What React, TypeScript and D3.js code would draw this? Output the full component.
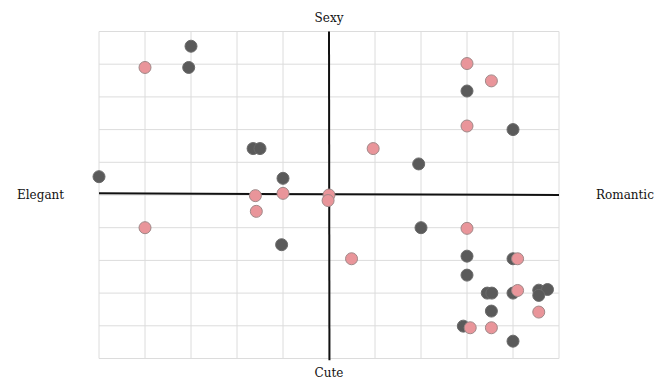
import React, { useEffect, useRef } from 'react';
import * as d3 from 'd3';

// quadrant scatter: Elegant/Romantic (x) vs Cute/Sexy (y)
const darkX = [-3, -3.05, -1.65, -1.5, -5, -1, -1.03, 3, 4, 1.95, 2, 3, 3, 4, 3.44, 3.54, 4, 4.56, 4.75, 4.56, 3.53, 2.92, 4];
const darkY = [4.55, 3.9, 1.42, 1.42, 0.56, 0.51, -1.52, 3.18, 2, 0.95, -1, -1.87, -2.45, -1.95, -3, -3, -3, -2.91, -2.89, -3.07, -3.55, -4.01, -4.47];

const pinkX = [-4, -1.6, -1, 0, -0.02, -1.58, -4, 3, 3.53, 3, 0.96, 3, 0.49, 4.1, 4.1, 4.56, 3.07, 3.53];
const pinkY = [3.9, -0.02, 0.05, 0, -0.17, -0.5, -1, 4.02, 3.49, 2.11, 1.42, -1.02, -1.95, -1.95, -2.92, -3.58, -4.06, -4.06];

const ticks = [-5, -4, -3, -2, -1, 0, 1, 2, 3, 4, 5];
const labels = { top: 'Sexy', bottom: 'Cute', left: 'Elegant', right: 'Romantic' };

const W = 670;
const H = 384;

const App: React.FC = () => {
  const svgRef = useRef<SVGSVGElement>(null);

  useEffect(() => {
    if (!svgRef.current) return;
    const svg = d3.select(svgRef.current);
    svg.selectAll('*').remove();

    const x = d3.scaleLinear().domain([-5, 5]).range([99, 559]);
    const y = d3.scaleLinear().domain([-5, 5]).range([358.5, 31.5]);

    const grid = svg.append('g').attr('stroke', '#dcdcdc').attr('stroke-width', 1);
    grid.selectAll('line.v').data(ticks).join('line')
      .attr('class', 'v')
      .attr('x1', d => x(d)).attr('x2', d => x(d))
      .attr('y1', y(5)).attr('y2', y(-5));
    grid.selectAll('line.h').data(ticks).join('line')
      .attr('class', 'h')
      .attr('x1', x(-5)).attr('x2', x(5))
      .attr('y1', d => y(d)).attr('y2', d => y(d));

    // axes (the horizontal one sits a hair off level in the original)
    svg.append('line')
      .attr('x1', x(-5)).attr('x2', x(5))
      .attr('y1', y(0.05)).attr('y2', y(0))
      .attr('stroke', '#111').attr('stroke-width', 2);
    svg.append('line')
      .attr('x1', x(0)).attr('x2', x(0.01))
      .attr('y1', y(5)).attr('y2', y(-5.05))
      .attr('stroke', '#111').attr('stroke-width', 2);

    svg.append('g').selectAll('circle').data(d3.range(darkX.length)).join('circle')
      .attr('cx', i => x(darkX[i]))
      .attr('cy', i => y(darkY[i]))
      .attr('r', 6)
      .attr('fill', '#5a5a5a')
      .attr('stroke', '#6a6a6a')
      .attr('stroke-width', 1);

    svg.append('g').selectAll('circle').data(d3.range(pinkX.length)).join('circle')
      .attr('cx', i => x(pinkX[i]))
      .attr('cy', i => y(pinkY[i]))
      .attr('r', 6)
      .attr('fill', '#e9959a')
      .attr('stroke', '#a08888')
      .attr('stroke-width', 1);

    const txt = svg.append('g')
      .attr('font-family', '"DejaVu Serif", serif')
      .attr('font-size', 12)
      .attr('fill', '#111');
    txt.append('text').attr('x', x(0)).attr('y', 22).attr('text-anchor', 'middle').text(labels.top);
    txt.append('text').attr('x', x(0)).attr('y', 377).attr('text-anchor', 'middle').text(labels.bottom);
    txt.append('text').attr('x', 17).attr('y', 199).text(labels.left);
    txt.append('text').attr('x', 596).attr('y', 199).text(labels.right);
  }, []);

  return (
    <svg
      ref={svgRef}
      width={W}
      height={H}
      style={{ position: 'absolute', left: 0, top: 0, background: '#fff' }}
    />
  );
};

export default App;
